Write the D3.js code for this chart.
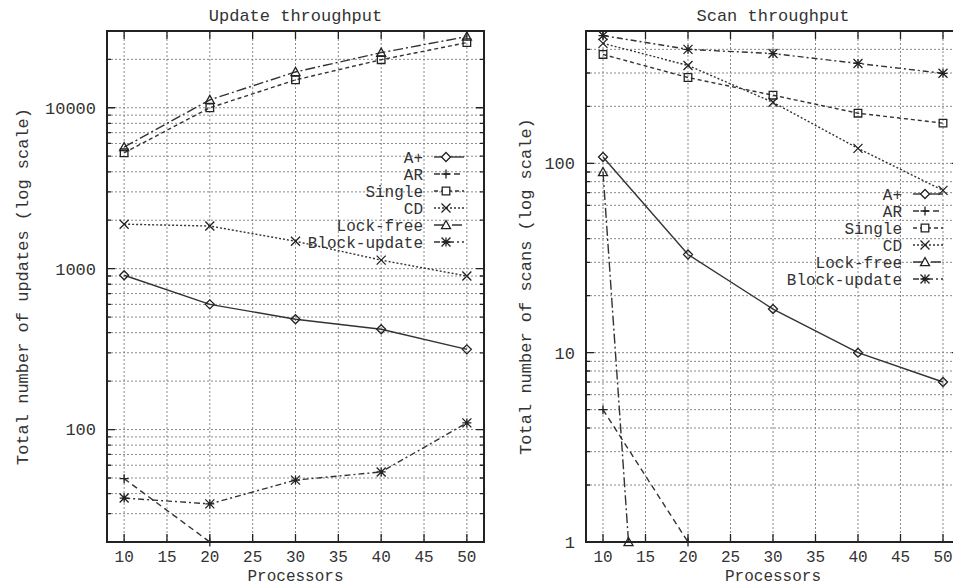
<!DOCTYPE html>
<html>
<head>
<meta charset="utf-8">
<script src="https://cdn.jsdelivr.net/npm/d3@7"></script>
<style>
  body { margin: 0; background: #fff; }
  text { font-family: "Liberation Mono", "DejaVu Sans Mono", monospace; fill: #333; }
</style>
</head>
<body>
<div id="chart"></div>
<script>
// x categories (number of processors)
var processors = [10, 20, 30, 40, 50];
var xTicks = [10, 15, 20, 25, 30, 35, 40, 45, 50];
var seriesNames = ["A+", "AR", "Single", "CD", "Lock-free", "Block-update"];

// Update throughput
var updAPlus = [910, 600, 485, 420, 315];
var updAR = [49.5, 20, null, null, null];
var updSingle = [5250, 10000, 14900, 19900, 25400];
var updCD = [1890, 1840, 1480, 1130, 900];
var updLockFree = [5700, 11200, 16700, 22000, 27700];
var updBlock = [37.5, 34.5, 48.5, 54.5, 110];
var updYTicks = [100, 1000, 10000];

// Scan throughput
var scanAPlus = [108, 33, 17, 10, 7];
var scanAR = [5, 1, null, null, null];
var scanSingle = [376, 284, 229, 184, 163];
var scanCD = [430, 329, 210, 120, 72];
var scanLockFreeX = [10, 13];
var scanLockFree = [90, 1];
var scanBlock = [473, 400, 380, 337, 299];
var scanYTicks = [1, 10, 100];

var width = 953,
    height = 586;

// line styles for the six series, gnuplot style
var dashes = ["none", "6,4", "4,3", "2,2", "10,3,2,3", "6,3,2,3"];
var markers = ["diamond", "plus", "square", "x", "triangle", "star"];

var svg = d3.select("#chart").append("svg")
    .attr("width", width)
    .attr("height", height);

function markerPath(type) {
    var r = 4.5;
    switch (type) {
        case "diamond": return "M0," + -r + "L" + r + ",0L0," + r + "L" + -r + ",0Z";
        case "plus": return "M" + -r + ",0H" + r + "M0," + -r + "V" + r;
        case "square": r = 3.8; return "M" + -r + "," + -r + "H" + r + "V" + r + "H" + -r + "Z";
        case "x": return "M" + -r + "," + -r + "L" + r + "," + r + "M" + r + "," + -r + "L" + -r + "," + r;
        case "triangle": return "M0," + -r + "L" + r + "," + (r * 0.8) + "L" + -r + "," + (r * 0.8) + "Z";
        case "star": return "M" + -r + "," + -r + "L" + r + "," + r + "M" + r + "," + -r + "L" + -r + "," + r +
            "M" + -r + ",0H" + r + "M0," + -r + "V" + r;
    }
}

function drawPanel(p) {
    var x = d3.scaleLinear().domain([8, 52]).range([p.left, p.right]);
    var y = d3.scaleLog().domain(p.yDomain).range([p.bottom, p.top]);

    var g = svg.append("g");

    // all log ticks inside the domain (majors and minors)
    var allY = [];
    var lo = Math.floor(Math.log10(p.yDomain[0])), hi = Math.ceil(Math.log10(p.yDomain[1]));
    for (var e = lo; e <= hi; e++) {
        for (var m = 1; m <= 9; m++) {
            var v = m * Math.pow(10, e);
            if (v >= p.yDomain[0] - 1e-9 && v <= p.yDomain[1] + 1e-9) allY.push({v: v, major: m == 1});
        }
    }

    // grid
    g.selectAll(".hgrid").data(allY).enter().append("line")
        .attr("x1", p.left).attr("x2", p.right)
        .attr("y1", function (d) { return y(d.v); })
        .attr("y2", function (d) { return y(d.v); })
        .attr("stroke", "#888").attr("stroke-width", 1).attr("stroke-dasharray", "2,2");
    g.selectAll(".vgrid").data(xTicks).enter().append("line")
        .attr("x1", function (d) { return x(d); }).attr("x2", function (d) { return x(d); })
        .attr("y1", p.top).attr("y2", p.bottom)
        .attr("stroke", "#888").attr("stroke-width", 1).attr("stroke-dasharray", "2,2");

    // ticks on the four borders, pointing inwards
    g.selectAll(".ytl").data(allY).enter().append("path")
        .attr("d", function (d) {
            var t = d.major ? 8 : 4, yy = y(d.v);
            return "M" + p.left + "," + yy + "h" + t + "M" + p.right + "," + yy + "h" + -t;
        })
        .attr("stroke", "#222").attr("stroke-width", 1.3);
    g.selectAll(".xtl").data(xTicks).enter().append("path")
        .attr("d", function (d) {
            return "M" + x(d) + "," + p.bottom + "v-8M" + x(d) + "," + p.top + "v8";
        })
        .attr("stroke", "#222").attr("stroke-width", 1.3);

    g.append("rect")
        .attr("x", p.left).attr("y", p.top)
        .attr("width", p.right - p.left).attr("height", p.bottom - p.top)
        .attr("fill", "none").attr("stroke", "#222").attr("stroke-width", 2);

    // tick labels
    g.selectAll(".xlab").data(xTicks).enter().append("text")
        .attr("x", function (d) { return x(d); })
        .attr("y", 556).attr("dy", "0.35em")
        .attr("text-anchor", "middle").attr("font-size", "16px")
        .text(function (d) { return d; });
    g.selectAll(".ylab").data(p.yTicks).enter().append("text")
        .attr("x", p.left - 11)
        .attr("y", function (d) { return y(d); }).attr("dy", "0.35em")
        .attr("text-anchor", "end").attr("font-size", "17px")
        .text(function (d) { return d; });

    // titles
    var cx = (p.left + p.right) / 2;
    g.append("text").attr("x", cx).attr("y", 15).attr("dy", "0.35em")
        .attr("text-anchor", "middle").attr("font-size", "17px").text(p.title);
    g.append("text").attr("x", cx).attr("y", 575).attr("dy", "0.35em")
        .attr("text-anchor", "middle").attr("font-size", "16px").text("Processors");
    g.append("text")
        .attr("transform", "translate(" + p.yLabelX + "," + ((p.top + p.bottom) / 2) + ")rotate(-90)")
        .attr("dy", "0.35em")
        .attr("text-anchor", "middle").attr("font-size", "17px").text(p.yLabel);

    // series
    var clipId = "clip" + p.id;
    svg.append("clipPath").attr("id", clipId).append("rect")
        .attr("x", p.left).attr("y", p.top)
        .attr("width", p.right - p.left).attr("height", p.bottom - p.top);

    var line = d3.line()
        .defined(function (d) { return d.v != null; })
        .x(function (d) { return x(d.x); })
        .y(function (d) { return y(d.v); });

    p.series.forEach(function (s, i) {
        var pts = s.values.map(function (v, j) { return {x: s.xs[j], v: v}; });
        g.append("path")
            .attr("clip-path", "url(#" + clipId + ")")
            .attr("d", line(pts))
            .attr("fill", "none")
            .attr("stroke", "#333").attr("stroke-width", 1.4)
            .attr("stroke-dasharray", dashes[i]);
        g.selectAll(".m" + i).data(pts.filter(function (d) { return d.v != null; }))
            .enter().append("path")
            .attr("transform", function (d) { return "translate(" + x(d.x) + "," + y(d.v) + ")"; })
            .attr("d", markerPath(markers[i]))
            .attr("fill", "none").attr("stroke", "#222").attr("stroke-width", 1.3);
    });

    // legend
    var leg = g.selectAll(".leg").data(seriesNames).enter().append("g")
        .attr("transform", function (d, i) {
            return "translate(" + p.legendX + "," + (p.legendY + i * 17) + ")";
        });
    leg.append("text")
        .attr("text-anchor", "end").attr("dy", "0.35em").attr("font-size", "16px")
        .text(function (d) { return d; });
    leg.append("line")
        .attr("x1", 11).attr("x2", 41).attr("y1", 0).attr("y2", 0)
        .attr("stroke", "#333").attr("stroke-width", 1.4)
        .attr("stroke-dasharray", function (d, i) { return dashes[i]; });
    leg.append("path")
        .attr("transform", "translate(23,0)")
        .attr("d", function (d, i) { return markerPath(markers[i]); })
        .attr("fill", "#fff").attr("stroke", "#222").attr("stroke-width", 1.3);
}

drawPanel({
    id: "upd",
    left: 107, right: 484, top: 31, bottom: 542,
    yDomain: [20, 30000], yTicks: updYTicks,
    title: "Update throughput",
    yLabel: "Total number of updates (log scale)", yLabelX: 22,
    legendX: 423, legendY: 157,
    series: [
        {xs: processors, values: updAPlus},
        {xs: processors, values: updAR},
        {xs: processors, values: updSingle},
        {xs: processors, values: updCD},
        {xs: processors, values: updLockFree},
        {xs: processors, values: updBlock}
    ]
});

drawPanel({
    id: "scan",
    left: 586, right: 960, top: 31, bottom: 542,
    yDomain: [1, 500], yTicks: scanYTicks,
    title: "Scan throughput",
    yLabel: "Total number of scans (log scale)", yLabelX: 525,
    legendX: 902, legendY: 194,
    series: [
        {xs: processors, values: scanAPlus},
        {xs: processors, values: scanAR},
        {xs: processors, values: scanSingle},
        {xs: processors, values: scanCD},
        {xs: scanLockFreeX, values: scanLockFree},
        {xs: processors, values: scanBlock}
    ]
});
</script>
</body>
</html>
